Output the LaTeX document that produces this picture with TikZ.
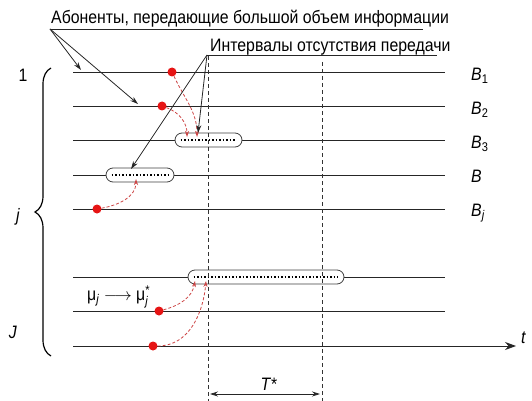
\documentclass[tikz,border=0pt]{standalone}
\usepackage{amsmath}
\usepackage{fontspec}
\setmainfont{Liberation Sans}[FakeStretch=0.88]
\usetikzlibrary{arrows.meta,decorations.pathreplacing,shapes.misc}

\definecolor{srcred}{RGB}{230,20,20}
\definecolor{arrred}{RGB}{205,70,70}

\tikzset{
  chan/.style={draw=black!85, line width=0.8pt},
  gap/.style={draw=black!75, fill=white, rounded rectangle, line width=0.8pt,
    minimum height=14pt, inner sep=0pt},
  idle/.style={line width=1.6pt, dash pattern=on 1.6pt off 1.9pt},
  vdash/.style={draw=black!80, line width=0.7pt, dash pattern=on 4pt off 3pt},
  src/.style={circle, fill=srcred, minimum size=9pt, inner sep=0pt},
  redarr/.style={draw=arrred, line width=0.8pt, dash pattern=on 3pt off 2pt,
    -{Stealth[length=6pt,width=4pt]}},
  lab/.style={font=\fontsize{18}{20}\selectfont, inner sep=0pt},
}

\begin{document}
\begin{tikzpicture}[x=1pt, y=-1pt, >={Stealth[length=8pt,width=5pt]},
    font=\fontsize{18}{20}\selectfont]
    \useasboundingbox (0,0) rectangle (532,401);

    % 1. Каналы
    \foreach \n/\y in {1/72, 2/106, 3/140, 4/175, 5/209, 6/277, 7/311} {
        \coordinate (a\n) at (73,\y);
        \coordinate (b\n) at (445,\y);
        \draw[chan] (a\n) -- (b\n);
    }
    \coordinate (a8) at (73,346);
    \coordinate (b8) at (516,346);
    \draw[chan, -{Stealth[length=11pt,width=8pt]}] (a8) -- (b8);
    \node[lab, anchor=west, font=\fontsize{18}{20}\selectfont\itshape] (t) at (521,338) {t};

    % 2. Подписи каналов
    \node[lab, anchor=west] (B1) at (471,76) {\textit{B}\textsubscript{1}};
    \node[lab, anchor=west] (B2) at (471,110) {\textit{B}\textsubscript{2}};
    \node[lab, anchor=west] (B3) at (471,144) {\textit{B}\textsubscript{3}};
    \node[lab, anchor=west] (B4) at (471,176) {\textit{B}};
    \node[lab, anchor=west] (B5) at (471,213) {\textit{B}\textsubscript{\textit{j}}};

    % 3. Интервалы
    \node[gap, minimum width=67pt] (g3) at (208.5,140) {};
    \node[gap, minimum width=68pt] (g4) at (140,175) {};
    \node[gap, minimum width=156pt] (g6) at (266,277) {};
    \foreach \g in {g3, g4, g6}
        \draw[idle] ([xshift=6pt]\g.west) -- ([xshift=-6pt]\g.east);

    % 4. Границы T*
    \coordinate (v1t) at (208,56);
    \coordinate (v1b) at (208,401);
    \coordinate (v2t) at (322,62);
    \coordinate (v2b) at (322,401);
    \draw[vdash] (v1t) -- (v1b);
    \draw[vdash] (v2t) -- (v2b);
    \coordinate (ta) at (210,394);
    \coordinate (tb) at (320,394);
    \draw[chan, <->] (ta) -- (tb);
    \node[lab] (T) at (269,384) {\textit{T}*};

    % 5. Абоненты
    \node[src] (s1) at (172,72) {};
    \node[src] (s2) at (162,106) {};
    \node[src] (s5) at (97,209) {};
    \node[src] (s7) at (159,311) {};
    \node[src] (s8) at (153,346) {};
    \coordinate (e1) at (197,137);
    \coordinate (e2) at (187,137);
    \coordinate (e5) at (136,179);
    \coordinate (e7) at (195,281);
    \coordinate (e8) at (206,281);
    \draw[redarr] (s1) to[out=-65, in=90] (e1);
    \draw[redarr] (s2) to[out=-20, in=90] (e2);
    \draw[redarr] (s5) to[out=10, in=-90] (e5);
    \draw[redarr] (s7) to[out=15, in=-100] (e7);
    \draw[redarr] (s8) to[out=0, in=-95] (e8);
    \node[lab, anchor=west] (mu) at (87,297)
        {μ\textsubscript{\textit{j}} $\longrightarrow$ μ$^{\text{*}}_{\textit{j}}$};

    % 6. Выноски
    \node[anchor=base west, inner sep=0pt] (ab) at (51,24)
        {Абоненты, передающие большой объем информации};
    \coordinate (ab0) at (50,29);
    \coordinate (ab1) at (423,29);
    \draw[chan] (ab0) -- (ab1);
    \coordinate (k1) at (81,70);
    \coordinate (k2) at (138,104);
    \draw[chan, ->] (ab0) -- (k1);
    \draw[chan, ->] (ab0) -- (k2);
    \node[anchor=base west, inner sep=0pt] (in) at (210,52)
        {Интервалы отсутствия передачи};
    \coordinate (in0) at (207,55);
    \coordinate (in1) at (437,55);
    \draw[chan] (in0) -- (in1);
    \coordinate (k3) at (198,133);
    \coordinate (k4) at (131,169);
    \draw[chan, ->] (in0) -- (k3);
    \draw[chan, ->] (in0) -- (k4);

    % 7. Скобка
    \coordinate (br0) at (51,356);
    \coordinate (br1) at (51,68);
    \draw[line width=1.2pt, decorate, decoration={brace, amplitude=16pt}] (br0) -- (br1);
    \node[lab] (n1) at (23,75) {1};
    \node[lab] (nj) at (18,217) {\textit{j}};
    \node[lab] (nJ) at (13,332) {\textit{J}};
\end{tikzpicture}
\end{document}
